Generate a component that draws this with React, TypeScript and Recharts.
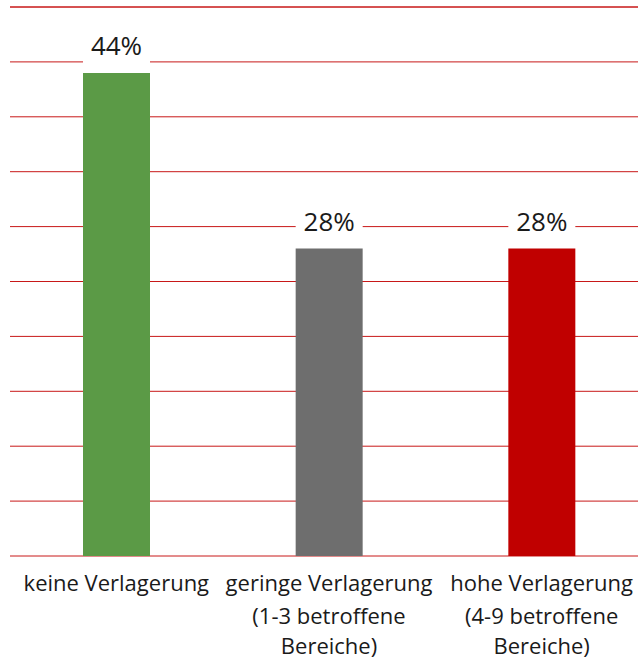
import { Bar, BarChart, CartesianGrid, Cell, LabelList, ReferenceLine, XAxis, YAxis } from "recharts";

const categories = ["keine", "geringe", "hohe"];
const tickLines = [
  ["keine Verlagerung"],
  ["geringe Verlagerung", "(1-3 betroffene", "Bereiche)"],
  ["hohe Verlagerung", "(4-9 betroffene", "Bereiche)"],
];
const shares = [44, 28, 28];
const barColors = ["#5b9a46", "#6e6e6e", "#c00000"];
const yTicks = [0, 5, 10, 15, 20, 25, 30, 35, 40, 45, 50];

const data = categories.map((c, i) => ({ name: c, value: shares[i] }));

const FONT = "'Open Sans', sans-serif";
const GRID = "#c81818";
const lineOffsets = [27, 60, 90];

const CategoryTick = (props: any) => {
  const { x, y, index } = props;
  const lines = tickLines[index] || [];
  return (
    <text x={x} y={y} textAnchor="middle" fontFamily={FONT} fontSize={22} fill="#1a1a1a">
      {lines.map((line, i) => (
        <tspan key={i} x={x} y={y + lineOffsets[i]}>
          {line}
        </tspan>
      ))}
    </text>
  );
};

const ValueLabel = (props: any) => {
  const { x, y, width, value } = props;
  return (
    <g>
      <rect x={x} y={y - 42} width={width} height={38} fill="#ffffff" />
      <text
        x={x + width / 2}
        y={y - 18}
        textAnchor="middle"
        fontFamily={FONT}
        fontSize={26}
        fill="#1a1a1a"
      >
        {value}%
      </text>
    </g>
  );
};

export default function App() {
  return (
    <div
      style={{
        position: "absolute",
        left: 0,
        top: 0,
        width: 638,
        height: 661,
        overflow: "hidden",
        background: "#fff",
      }}
    >
      <BarChart
        width={648}
        height={661}
        data={data}
        margin={{ top: 7, right: 0, bottom: 0, left: 10 }}
        barCategoryGap={0}
      >
        <CartesianGrid vertical={false} stroke={GRID} />
        <ReferenceLine y={50} stroke={GRID} />
        <XAxis
          dataKey="name"
          axisLine={false}
          tickLine={false}
          height={105}
          interval={0}
          tick={<CategoryTick />}
        />
        <YAxis hide domain={[0, 50]} ticks={yTicks} />
        <Bar dataKey="value" barSize={67} isAnimationActive={false}>
          {data.map((d, i) => (
            <Cell key={d.name} fill={barColors[i]} />
          ))}
          <LabelList dataKey="value" content={<ValueLabel />} />
        </Bar>
      </BarChart>
    </div>
  );
}
